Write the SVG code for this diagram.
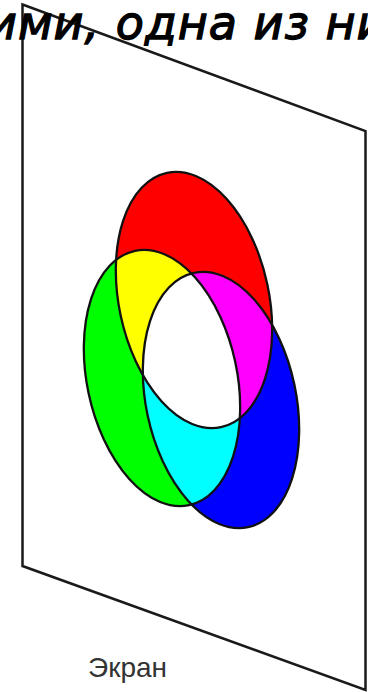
<svg xmlns="http://www.w3.org/2000/svg" xmlns:xlink="http://www.w3.org/1999/xlink" width="368" height="692" viewBox="0 0 368 692">
<style>
.edge{fill:none;stroke:#111;stroke-width:2.3}
.frame{fill:#fff;stroke:#1a1a1a;stroke-width:2.5;stroke-linejoin:miter}
.title{font-family:"DejaVu Sans",sans-serif;font-style:italic;font-size:46px;fill:#000;stroke:#000;stroke-width:1.3}
.label{font-family:"Liberation Sans",Arial,sans-serif;font-size:28px;fill:#333}
</style>
<defs>
<ellipse id="eR" cx="194" cy="300" rx="75" ry="130" transform="rotate(-12 194 300)"/>
<ellipse id="eG" cx="162" cy="378" rx="75" ry="130" transform="rotate(-12 162 378)"/>
<ellipse id="eB" cx="221" cy="400" rx="75" ry="130" transform="rotate(-12 221 400)"/>
<clipPath id="cR"><use xlink:href="#eR"/></clipPath>
<clipPath id="cG"><use xlink:href="#eG"/></clipPath>
<clipPath id="cB"><use xlink:href="#eB"/></clipPath>
</defs>
<rect width="368" height="692" fill="#fff"/>
<g id="screen">
<polygon class="frame" points="22.5,4.5 365.5,131 365.5,690 22.5,566"/>
</g>
<g id="circles">
<use xlink:href="#eR" fill="#ff0000"/>
<use xlink:href="#eG" fill="#00ff00"/>
<use xlink:href="#eB" fill="#0000ff"/>
<use xlink:href="#eG" fill="#ffff00" clip-path="url(#cR)"/>
<use xlink:href="#eB" fill="#ff00ff" clip-path="url(#cR)"/>
<use xlink:href="#eB" fill="#00ffff" clip-path="url(#cG)"/>
<g clip-path="url(#cR)"><use xlink:href="#eB" fill="#ffffff" clip-path="url(#cG)"/></g>
<use xlink:href="#eR" class="edge"/>
<use xlink:href="#eG" class="edge"/>
<use xlink:href="#eB" class="edge"/>
</g>
<g id="title"><text class="title" x="-13" y="39" letter-spacing="1">ими, одна из ни</text></g>
<g id="label"><text class="label" x="88" y="677">Экран</text></g>
</svg>
